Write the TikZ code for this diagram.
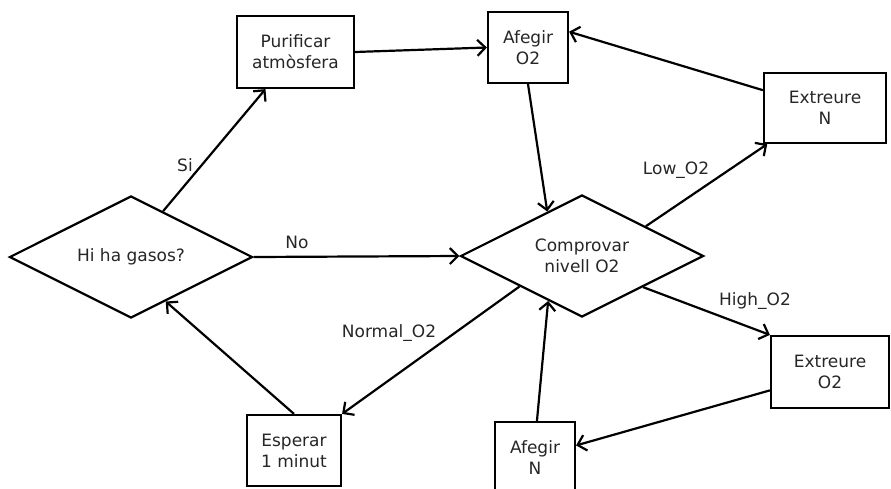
\documentclass[tikz,border=0pt]{standalone}
\usepackage{fontspec}
\setmainfont{DejaVu Sans}
\usetikzlibrary{shapes.geometric,arrows.meta}
\begin{document}
\begin{tikzpicture}[x=1pt,y=-1pt,
  every node/.style={text=black!85, font=\fontsize{17}{21}\selectfont},
  box/.style={draw=black, line width=2.2pt, rectangle, inner sep=0pt, align=center, text=black!85},
  dec/.style={draw=black, line width=2.2pt, diamond, aspect=2, inner sep=0pt, minimum width=243pt, minimum height=122pt, align=center, text=black!85},
  conn/.style={line width=2.2pt, -{Straight Barb[length=8pt,width=16pt]}},
  lbl/.style={inner sep=0pt, text=black!85}
]
\useasboundingbox (0,0) rectangle (891,488);
\node[dec] (d1) at (131,257) {Hi ha gasos?};
\node[dec] (d2) at (582,256) {Comprovar\\nivell O2};
\node[box, minimum width=117pt, minimum height=72pt] (pur) at (295.5,52) {Purificar\\atmòsfera};
\node[box, minimum width=80pt, minimum height=71pt] (ao2) at (528,47.5) {Afegir\\O2};
\node[box, minimum width=122pt, minimum height=70pt] (exn) at (825,108) {Extreure\\N};
\node[box, minimum width=118pt, minimum height=72pt] (exo2) at (830,372) {Extreure\\O2};
\node[box, minimum width=94pt, minimum height=71pt] (esp) at (294,450.5) {Esperar\\1 minut};
\node[box, minimum width=80pt, minimum height=72pt] (an) at (535,458) {Afegir\\N};

\draw[conn] (d1.55.7) -- (pur.231);
\draw[conn] (pur.east) -- (ao2.west);
\draw[conn] (ao2.south) -- (d2.128.5);
\draw[conn] (exn.164) -- (ao2.21);
\draw[conn] (d2.25.5) -- (exn.212);
\draw[conn] (d2.333) -- (exo2.north west);
\draw[conn] (exo2.197) -- (an.17.6);
\draw[conn] (an.87) -- (d2.233);
\draw[conn] (d2.206.6) -- (esp.north east);
\draw[conn] (esp.north) -- (d1.308.3);
\draw[conn] (d1.east) -- (d2.west);

\node[lbl] (lsi) at (185,165) {Si};
\node[lbl] (lno) at (297,242) {No};
\node[lbl] (llow) at (676,170) {Low\_O2};
\node[lbl] (lhigh) at (755,301) {High\_O2};
\node[lbl] (lnorm) at (389,333) {Normal\_O2};
\end{tikzpicture}
\end{document}
